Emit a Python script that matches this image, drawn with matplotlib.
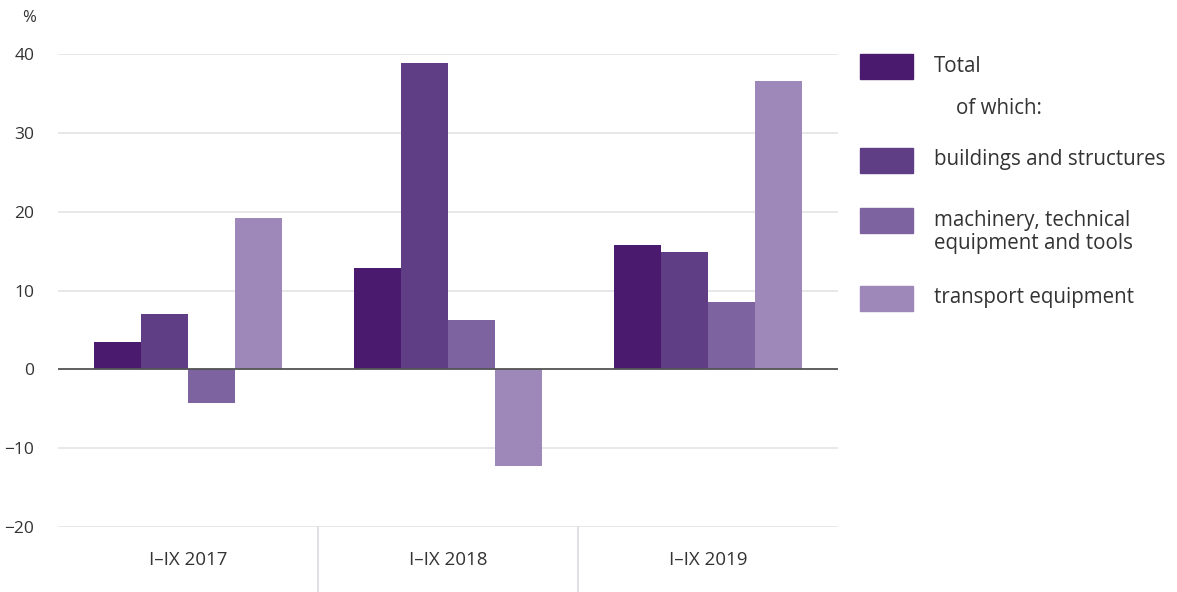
import numpy as np
import matplotlib.pyplot as plt
from matplotlib.patches import Rectangle

plt.rcParams["font.family"] = ["Open Sans", "DejaVu Sans"]

periods = ["I–IX 2017", "I–IX 2018", "I–IX 2019"]
series = ["Total", "buildings and structures",
          "machinery, technical\nequipment and tools", "transport equipment"]
total = [3.5, 12.8, 15.8]
buildings = [7.0, 38.8, 14.9]
machinery = [-4.3, 6.3, 8.5]
transport = [19.2, -12.2, 36.6]
colors = ["#4a1a6f", "#603e86", "#7d64a0", "#9d88b9"]

values = [total, buildings, machinery, transport]
text_color = "#333333"

fig = plt.figure(figsize=(11.77, 5.92), dpi=100)
ax = fig.add_axes([58 / 1177, 1 - 527 / 592, 780 / 1177, 473 / 592])

x = np.arange(len(periods))
w = 0.18
for i, (vals, col) in enumerate(zip(values, colors)):
    ax.bar(x + (i - 1.5) * w, vals, width=w, color=col, zorder=3)

ax.set_xlim(-0.5, len(periods) - 0.5)
ax.set_ylim(-20, 40)
ax.set_yticks(range(-20, 41, 10))
ax.yaxis.grid(True, color="#e4e4e8", linewidth=1.2, zorder=0)
ax.axhline(0, color="#555555", linewidth=1.3, zorder=4)
for s in ax.spines.values():
    s.set_visible(False)
ax.tick_params(axis="y", length=0, pad=17, labelsize=12.5, labelcolor=text_color)
ax.set_xticks(x)
ax.set_xticklabels(periods)
ax.tick_params(axis="x", length=0, pad=17, labelsize=13.5, labelcolor=text_color)

# separators between the period labels
for b in [0.5, 1.5]:
    ax.plot([b, b], [-20, -28.3], color="#dcdce0", linewidth=1.2, clip_on=False)

fig.text(22 / 1177, 1 - 18 / 592, "%", fontsize=12, color=text_color,
         ha="left", va="center")

# legend
lx, lw, lh = 860 / 1177, 53 / 1177, 25 / 592
tx = 934 / 1177
fs = 14.8
rows = [(66, 0), (160, 1), (220, 2), (298, 3)]
for yc, i in rows:
    fig.patches.append(Rectangle((lx, 1 - yc / 592 - lh / 2), lw, lh,
                                 transform=fig.transFigure, color=colors[i]))
    if i == 2:
        fig.text(tx, 1 - 232 / 592, series[i], fontsize=fs, color=text_color,
                 ha="left", va="center", linespacing=1.15)
    else:
        fig.text(tx, 1 - yc / 592, series[i], fontsize=fs, color=text_color,
                 ha="left", va="center")
fig.text(956 / 1177, 1 - 108 / 592, "of which:", fontsize=fs,
         color=text_color, ha="left", va="center")

fig.savefig("out.png", dpi=100)
